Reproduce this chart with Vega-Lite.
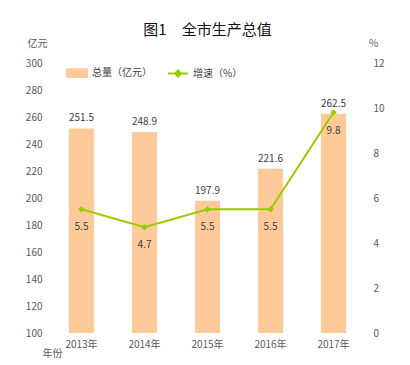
{
  "$schema": "https://vega.github.io/schema/vega-lite/v6.json",
  "width": 315,
  "height": 270,
  "autosize": {"type": "none"},
  "padding": {"left": 50, "top": 63, "right": 45, "bottom": 32},
  "background": "white",
  "title": {"text": "图1　全市生产总值", "fontSize": 15, "font": "Noto Sans CJK SC", "fontWeight": "normal", "color": "#111", "anchor": "middle", "offset": 0},
  "config": {
    "view": {"stroke": null},
    "font": "Noto Sans CJK SC",
    "axis": {"grid": false, "domain": false, "ticks": false, "labelFontSize": 10, "labelColor": "#595959", "titleFontSize": 10, "titleColor": "#595959", "titleFontWeight": "normal"}
  },
  "data": {"values": [
    {"year": "2013年", "total": 251.5, "growth": 5.5, "tl": "251.5", "gl": "5.5"},
    {"year": "2014年", "total": 248.9, "growth": 4.7, "tl": "248.9", "gl": "4.7"},
    {"year": "2015年", "total": 197.9, "growth": 5.5, "tl": "197.9", "gl": "5.5"},
    {"year": "2016年", "total": 221.6, "growth": 5.5, "tl": "221.6", "gl": "5.5"},
    {"year": "2017年", "total": 262.5, "growth": 9.8, "tl": "262.5", "gl": "9.8"}
  ]},
  "encoding": {
    "x": {"field": "year", "type": "nominal", "sort": null,
      "scale": {"paddingInner": 0.6, "paddingOuter": 0.3},
      "axis": {"title": "年份", "labelAngle": 0, "labelPadding": 6, "titleAngle": 0, "titleX": 2, "titleY": 20, "titleAlign": "center", "titleBaseline": "middle"}}
  },
  "layer": [
    {
      "encoding": {
        "y": {"field": "total", "type": "quantitative",
          "scale": {"domain": [100, 300], "zero": false, "nice": false},
          "axis": {"values": [100,120,140,160,180,200,220,240,260,280,300], "labelPadding": 8, "title": "亿元", "titleAngle": 0, "titleX": -13, "titleY": -20, "titleAlign": "center", "titleBaseline": "middle"}}
      },
      "layer": [
        {"mark": {"type": "bar", "color": "#FFCA99"},
         "encoding": {"y2": {"datum": 100},
           "color": {"datum": "总量（亿元）", "type": "nominal",
             "scale": {"domain": ["总量（亿元）", "增速（%）"], "range": ["#FFCA99", "#99CC00"]},
             "legend": {"orient": "none", "direction": "horizontal", "legendX": 16, "legendY": -1, "title": null,
               "labelFontSize": 10, "labelColor": "#404040", "symbolSize": 120, "symbolStrokeWidth": 2, "columnPadding": 12, "labelOffset": 4,
               "encode": {"symbols": {"update": {
                 "shape": [{"test": "datum.value === '总量（亿元）'", "value": "M-1,-0.38H1V0.38H-1Z"}, {"value": "M-1,0H1M0,-0.3L0.3,0L0,0.3L-0.3,0Z"}],
                 "fill": [{"test": "datum.value === '总量（亿元）'", "value": "#FFCA99"}, {"value": "#99CC00"}],
                 "stroke": [{"test": "datum.value === '总量（亿元）'", "value": "#FFCA99"}, {"value": "#99CC00"}],
                 "size": {"value": 400},
                 "opacity": {"value": 1},
                 "fillOpacity": {"value": 1}
               }}}}}}},
        {"mark": {"type": "text", "dy": -10, "fontSize": 10, "color": "#404040"},
         "encoding": {"text": {"field": "tl"}}}
      ]
    },
    {
      "encoding": {
        "y": {"field": "growth", "type": "quantitative",
          "scale": {"domain": [0, 12], "nice": false},
          "axis": {"orient": "right", "values": [0,2,4,6,8,10,12], "labelPadding": 8, "title": "%", "titleAngle": 0, "titleX": 8, "titleY": -20, "titleAlign": "center", "titleBaseline": "middle"}}
      },
      "layer": [
        {"mark": {"type": "line", "color": "#99CC00", "strokeWidth": 2}, "encoding": {}},
        {"mark": {"type": "point", "shape": "diamond", "filled": true, "color": "#99CC00", "size": 40, "opacity": 1}, "encoding": {}},
        {"mark": {"type": "text", "dy": 18, "fontSize": 10, "color": "#404040"},
         "encoding": {"text": {"field": "gl"}}}
      ]
    }
  ],
  "resolve": {"scale": {"y": "independent", "color": "independent"}}
}
